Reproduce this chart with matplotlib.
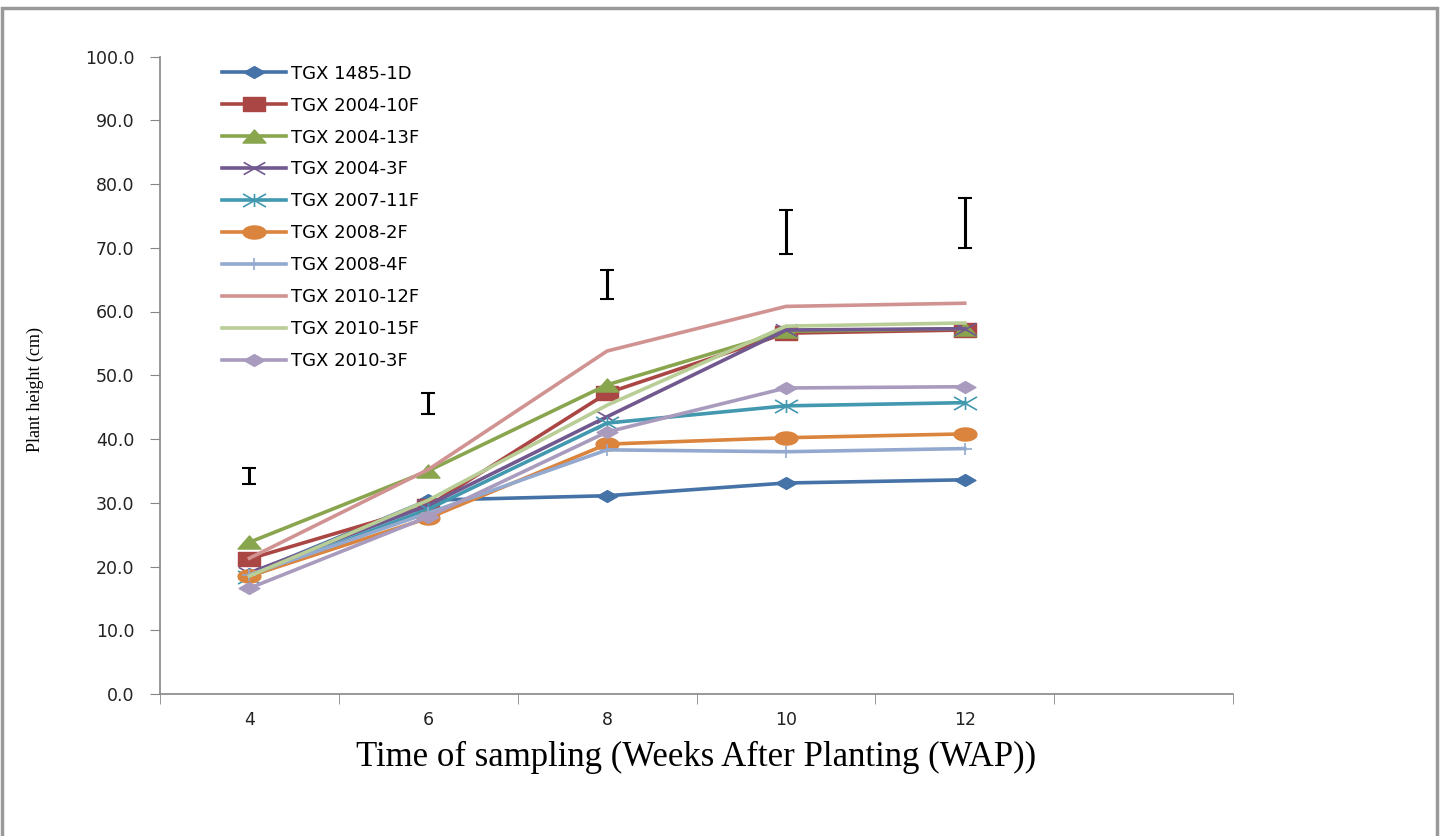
import numpy as np
import matplotlib
matplotlib.use("Agg")
import matplotlib.pyplot as plt
from matplotlib.patches import Rectangle
from matplotlib.path import Path

# sampling times (WAP); the sixth category slot is left empty as in the original
weeks = ["4", "6", "8", "10", "12", ""]

genotypes = [
    "TGX 1485-1D", "TGX 2004-10F", "TGX 2004-13F", "TGX 2004-3F", "TGX 2007-11F",
    "TGX 2008-2F", "TGX 2008-4F", "TGX 2010-12F", "TGX 2010-15F", "TGX 2010-3F",
]

tgx_1485_1d = [18.8, 30.4, 31.1, 33.1, 33.6]
tgx_2004_10f = [21.2, 29.5, 47.2, 56.6, 57.1]
tgx_2004_13f = [23.8, 35.0, 48.5, 56.9, 57.3]
tgx_2004_3f = [19.0, 29.6, 43.5, 57.1, 57.3]
tgx_2007_11f = [18.4, 29.0, 42.5, 45.2, 45.7]
tgx_2008_2f = [18.5, 27.6, 39.2, 40.2, 40.8]
tgx_2008_4f = [18.7, 28.4, 38.3, 38.0, 38.5]
tgx_2010_12f = [21.3, 35.2, 53.8, 60.8, 61.3]
tgx_2010_15f = [18.5, 30.4, 45.3, 57.7, 58.2]
tgx_2010_3f = [16.6, 27.8, 41.1, 48.0, 48.2]

# LSD bars drawn above each sampling time
lsd_centre = [34.2, 45.6, 64.2, 72.5, 73.9]
lsd_half = [1.2, 1.6, 2.3, 3.45, 3.9]

series = [tgx_1485_1d, tgx_2004_10f, tgx_2004_13f, tgx_2004_3f, tgx_2007_11f,
          tgx_2008_2f, tgx_2008_4f, tgx_2010_12f, tgx_2010_15f, tgx_2010_3f]

colors = ["#4572A7", "#AA4643", "#89A54E", "#71588F", "#4198AF",
          "#DB843D", "#93A9CF", "#D19392", "#B9CD96", "#A99BBD"]

# the original markers look stretched sideways, so build wide ones
W, H = 0.875, 0.5
M, L, C = Path.MOVETO, Path.LINETO, Path.CLOSEPOLY
diamond = Path([(-W, 0), (0, H), (W, 0), (0, -H), (-W, 0)], [M, L, L, L, C])
square = Path([(-W, -H), (W, -H), (W, H), (-W, H), (-W, -H)], [M, L, L, L, C])
triangle = Path([(-W, -H), (W, -H), (0, H), (-W, -H)], [M, L, L, C])
t = np.linspace(0, 2 * np.pi, 40)
ellipse = Path(np.column_stack([W * np.cos(t), H * np.sin(t)]))
cross = Path([(-W, -H), (W, H), (-W, H), (W, -H)], [M, L, M, L])
star = Path([(-W, -H), (W, H), (-W, H), (W, -H), (0, -H), (0, H)], [M, L, M, L, M, L])
plus = Path([(-0.6, 0), (0.6, 0), (0, -0.5), (0, 0.5)], [M, L, M, L])

markers = [diamond, square, triangle, cross, star, ellipse, plus, "None", "None", diamond]
msizes = [15, 16.5, 16.5, 15.5, 16.5, 16.5, 10, 0, 0, 15]
filled = [True, True, True, False, False, True, False, False, False, True]

fig = plt.figure(figsize=(14.45, 8.36), dpi=100)
fig.patch.set_facecolor("white")

# outer frame of the original chart area
fig.add_artist(Rectangle((2 / 1445, -0.02), 1435 / 1445, 1 - 8 / 836 + 0.02,
                         transform=fig.transFigure, fill=False,
                         edgecolor="#999999", linewidth=2.5))

ax = fig.add_axes([160 / 1445, 1 - 694 / 836, 1073 / 1445, (694 - 56.5) / 836])

x = np.arange(len(lsd_centre))
for vals, name, c, m, ms, f in zip(series, genotypes, colors, markers, msizes, filled):
    ax.plot(x, vals, color=c, linewidth=2.6, marker=m, markersize=ms,
            markeredgecolor=c, markerfacecolor=c if f else "none",
            markeredgewidth=1.0 if f else 1.2, label=name)

ax.errorbar(x, lsd_centre, yerr=lsd_half, fmt="none", ecolor="black",
            elinewidth=2.2, capsize=5, capthick=1.5)

tick_font = dict(family="DejaVu Sans", size=12.5)
ax.set_xlim(-0.5, 5.5)
ax.set_ylim(0, 100)
ax.set_yticks(np.arange(0, 101, 10))
ax.set_yticklabels([f"{v:.1f}" for v in np.arange(0, 101, 10)], fontdict=tick_font, color="#222222")
ax.set_xticks(np.arange(6))
ax.set_xticklabels(weeks, fontdict=tick_font, color="#222222")
ax.set_xticks(np.arange(-0.5, 6, 1), minor=True)
ax.tick_params(axis="x", which="major", length=0, pad=12)
ax.tick_params(axis="x", which="minor", length=7, color="#868686", direction="out")
ax.tick_params(axis="y", length=7, color="#868686", direction="out", pad=11.5)

for s in ["top", "right"]:
    ax.spines[s].set_visible(False)
for s in ["left", "bottom"]:
    ax.spines[s].set_color("#868686")
    ax.spines[s].set_linewidth(1.2)

ax.legend(loc="upper left", bbox_to_anchor=(0.058, 0.987), frameon=False,
          prop=dict(family="DejaVu Sans", size=13), numpoints=1,
          handlelength=3.55, handletextpad=0.28, labelspacing=0.77,
          borderaxespad=0, borderpad=0)

fig.text(696 / 1445, 1 - 757 / 836, "Time of sampling (Weeks After Planting (WAP))",
         family="Liberation Serif", fontsize=25, ha="center", va="center")
fig.text(35 / 1445, 1 - 389 / 836, "Plant height (cm)", family="Liberation Serif",
         fontsize=13, rotation=90, ha="center", va="center")

fig.savefig("out.png", dpi=100)
